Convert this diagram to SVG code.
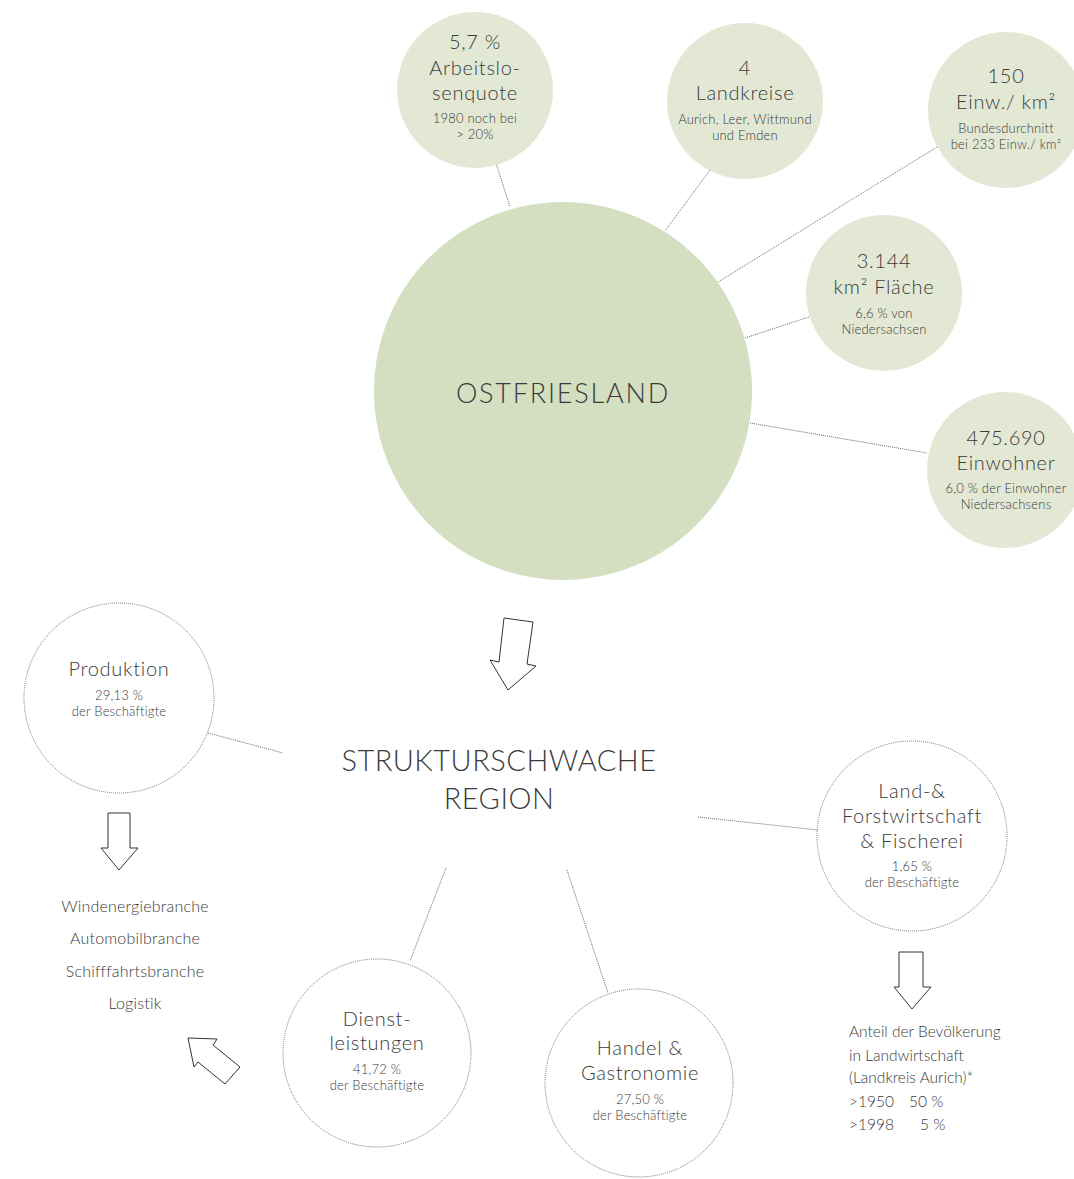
<svg xmlns="http://www.w3.org/2000/svg" width="1074" height="1179" viewBox="0 0 1074 1179">
<style>
text{font-family:Lato,"Open Sans","Liberation Sans",sans-serif;font-weight:300;fill:#3a3a3a;text-anchor:middle}
.h{font-size:20px;letter-spacing:0.7px}
.s{font-size:13px;letter-spacing:0.2px}
.l{font-size:16px;letter-spacing:0.2px}
.t{font-size:15.5px;text-anchor:start}
.sm{fill:#e3e8d5}
.big{fill:#d4dec0}
.oc{fill:none;stroke:#555;stroke-width:0.8;stroke-dasharray:1 1}
.c line{stroke:#444;stroke-width:0.8;stroke-dasharray:1 1}
.ar{fill:#fff;stroke:#333;stroke-width:1}
</style>
<g class="c" id="connectors">
<line x1="496" y1="163" x2="510" y2="207"/>
<line x1="710" y1="170" x2="665" y2="231"/>
<line x1="937" y1="147" x2="718" y2="282"/>
<line x1="809" y1="317" x2="745" y2="338"/>
<line x1="750" y1="423" x2="927" y2="453"/>
<line x1="208" y1="733" x2="283" y2="753"/>
<line x1="698" y1="817" x2="818" y2="830"/>
<line x1="446" y1="868" x2="410" y2="961"/>
<line x1="567" y1="870" x2="608" y2="993"/>
</g>
<g id="ostfriesland"><circle class="big" cx="563" cy="391" r="189"/><text x="563" y="403" style="font-size:27px;letter-spacing:1.8px">OSTFRIESLAND</text></g>
<g id="arbeitslos"><circle class="sm" cx="475" cy="90" r="78"/>
<text class="h" x="475" y="49">5,7 %</text><text class="h" x="475" y="75">Arbeitslo-</text><text class="h" x="475" y="100">senquote</text>
<text class="s" x="475" y="123">1980 noch bei</text><text class="s" x="475" y="139">&gt; 20%</text></g>
<g id="landkreise"><circle class="sm" cx="745" cy="101" r="78"/>
<text class="h" x="745" y="75">4</text><text class="h" x="745" y="100">Landkreise</text>
<text class="s" x="745" y="124">Aurich, Leer, Wittmund</text><text class="s" x="745" y="140">und Emden</text></g>
<g id="dichte"><circle class="sm" cx="1006" cy="110" r="78"/>
<text class="h" x="1006" y="83">150</text><text class="h" x="1006" y="109">Einw./ km²</text>
<text class="s" x="1006" y="133">Bundesdurchnitt</text><text class="s" x="1006" y="149">bei 233 Einw./ km²</text></g>
<g id="flaeche"><circle class="sm" cx="884" cy="293" r="78"/>
<text class="h" x="884" y="268">3.144</text><text class="h" x="884" y="294">km² Fläche</text>
<text class="s" x="884" y="318">6,6 % von</text><text class="s" x="884" y="334">Niedersachsen</text></g>
<g id="einwohner"><circle class="sm" cx="1005" cy="470" r="78"/>
<text class="h" x="1006" y="445">475.690</text><text class="h" x="1006" y="470">Einwohner</text>
<text class="s" x="1006" y="493">6,0 % der Einwohner</text><text class="s" x="1006" y="509">Niedersachsens</text></g>
<g id="arrow-main"><polygon class="ar" points="504,618 533,622 527,664 536,666 508,690 490,660 499,662"/></g>
<g id="region"><text x="499" y="771" style="font-size:29px;letter-spacing:0.5px">STRUKTURSCHWACHE</text><text x="499" y="809" style="font-size:29px;letter-spacing:0.5px">REGION</text></g>
<g id="produktion"><circle class="oc" cx="119" cy="698" r="95"/>
<text class="h" x="119" y="676">Produktion</text><text class="s" x="119" y="700">29,13 %</text><text class="s" x="119" y="716">der Beschäftigte</text></g>
<g id="arrow-prod"><polygon class="ar" points="108,813 130,813 130,848 138,848 119,870 101,848 108,848"/></g>
<g id="branchen">
<text class="l" x="135" y="912">Windenergiebranche</text><text class="l" x="135" y="944">Automobilbranche</text>
<text class="l" x="135" y="977">Schifffahrtsbranche</text><text class="l" x="135" y="1009">Logistik</text></g>
<g id="arrow-dienst"><polygon class="ar" points="188,1038 217,1039 213,1045 240,1067 225,1084 198,1062 194,1067"/></g>
<g id="dienst"><circle class="oc" cx="377" cy="1053" r="94"/>
<text class="h" x="377" y="1026">Dienst-</text><text class="h" x="377" y="1050">leistungen</text>
<text class="s" x="377" y="1074">41,72 %</text><text class="s" x="377" y="1090">der Beschäftigte</text></g>
<g id="handel"><circle class="oc" cx="639" cy="1083" r="94"/>
<text class="h" x="640" y="1055">Handel &amp;</text><text class="h" x="640" y="1080">Gastronomie</text>
<text class="s" x="640" y="1104">27,50 %</text><text class="s" x="640" y="1120">der Beschäftigte</text></g>
<g id="land"><circle class="oc" cx="912" cy="836" r="95"/>
<text class="h" x="912" y="798">Land-&amp;</text><text class="h" x="912" y="823">Forstwirtschaft</text><text class="h" x="912" y="848">&amp; Fischerei</text>
<text class="s" x="912" y="871">1,65 %</text><text class="s" x="912" y="887">der Beschäftigte</text></g>
<g id="arrow-land"><polygon class="ar" points="899,952 923,952 923,987 931,987 912,1009 894,987 899,987"/></g>
<g id="anteil">
<text class="t" x="849" y="1037">Anteil der Bevölkerung</text><text class="t" x="849" y="1061">in Landwirtschaft</text>
<text class="t" x="849" y="1083">(Landkreis Aurich)*</text>
<text class="t" x="849" y="1107">&gt;1950</text><text class="t" x="909" y="1107">50 %</text>
<text class="t" x="849" y="1130">&gt;1998</text><text class="t" x="920" y="1130">5 %</text></g>
</svg>
